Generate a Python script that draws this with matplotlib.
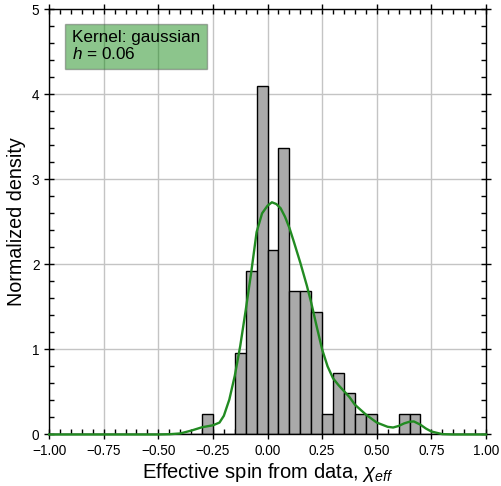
import matplotlib.pyplot as plt
import numpy as np
from matplotlib.ticker import MultipleLocator

plt.rcParams['font.family'] = ['Liberation Sans', 'DejaVu Sans']
plt.rcParams['mathtext.fontset'] = 'custom'
plt.rcParams['mathtext.rm'] = 'Liberation Sans'
plt.rcParams['mathtext.it'] = 'Liberation Sans:italic'

# histogram counts, bins of width 0.05 from -1 to 1 (83 events)
bin_edges = np.round(np.arange(-1.0, 1.0001, 0.05), 3)
counts = [0, 0, 0, 0, 0, 0, 0, 0, 0, 0, 0, 0, 0, 0,
          1, 0, 0, 4, 8, 17, 9, 14, 7, 7, 6, 1, 3, 2, 1, 1,
          0, 0, 1, 1, 0, 0, 0, 0, 0, 0]

# gaussian KDE curve
kde_x = [-1.0, -0.5, -0.45, -0.40, -0.35, -0.30, -0.25, -0.22, -0.20, -0.175,
         -0.15, -0.125, -0.10, -0.075, -0.05, -0.025, 0.0, 0.02, 0.04, 0.06,
         0.08, 0.10, 0.12, 0.15, 0.18, 0.20, 0.225, 0.25, 0.275, 0.30,
         0.325, 0.35, 0.375, 0.40, 0.45, 0.50, 0.55, 0.575, 0.60, 0.625,
         0.65, 0.67, 0.70, 0.725, 0.75, 0.80, 0.85, 1.0]
kde_y = [0.0, 0.0, 0.003, 0.012, 0.045, 0.085, 0.108, 0.14, 0.22, 0.41,
         0.69, 1.04, 1.46, 1.90, 2.38, 2.60, 2.69, 2.73, 2.71, 2.66,
         2.56, 2.43, 2.27, 2.02, 1.75, 1.55, 1.27, 1.00, 0.80, 0.66,
         0.58, 0.51, 0.44, 0.35, 0.235, 0.14, 0.09, 0.082, 0.10, 0.13,
         0.15, 0.153, 0.115, 0.07, 0.035, 0.004, 0.0, 0.0]

kernel = 'gaussian'
bandwidth = 0.06


def do_plot():
    fig = plt.figure(figsize=(5.01, 4.86), dpi=100)
    ax = fig.add_axes([0.098, 0.106, 0.872, 0.875])
    ax.set_axisbelow(True)
    ax.grid(color='#c4c4c4', linewidth=1.0)

    ax.hist(bin_edges[:-1], bins=bin_edges, weights=counts, density=True,
            facecolor='#aaaaaa', edgecolor='black', linewidth=1.0)
    ax.plot(kde_x, kde_y, color='forestgreen', linewidth=1.7, zorder=3,
            clip_on=False)

    ax.set_xlim(-1, 1)
    ax.set_ylim(0, 5)
    ax.xaxis.set_major_locator(MultipleLocator(0.25))
    ax.xaxis.set_minor_locator(MultipleLocator(0.05))
    ax.yaxis.set_major_locator(MultipleLocator(1))
    ax.yaxis.set_minor_locator(MultipleLocator(0.2))
    ax.tick_params(which='major', direction='inout', length=7, width=1,
                   top=True, right=True, labelsize=9.8)
    ax.tick_params(which='minor', direction='in', length=3.5, width=1,
                   top=True, right=True)
    for s in ax.spines.values():
        s.set_linewidth(1.0)

    ax.set_xlabel(r'Effective spin from data, $\chi_{eff}$', fontsize=14.5, labelpad=2)
    ax.set_ylabel('Normalized density', fontsize=14.2, labelpad=4)

    ax.text(0.052, 0.950, 'Kernel: %s\n$h$ = %.2f' % (kernel, bandwidth),
            transform=ax.transAxes, fontsize=12.3, va='top', ha='left',
            linespacing=1.05,
            bbox=dict(boxstyle='square,pad=0.38', facecolor='green',
                      alpha=0.45, edgecolor='#555555'))

    fig.savefig('out.png', dpi=100)


if __name__ == '__main__':
    do_plot()
